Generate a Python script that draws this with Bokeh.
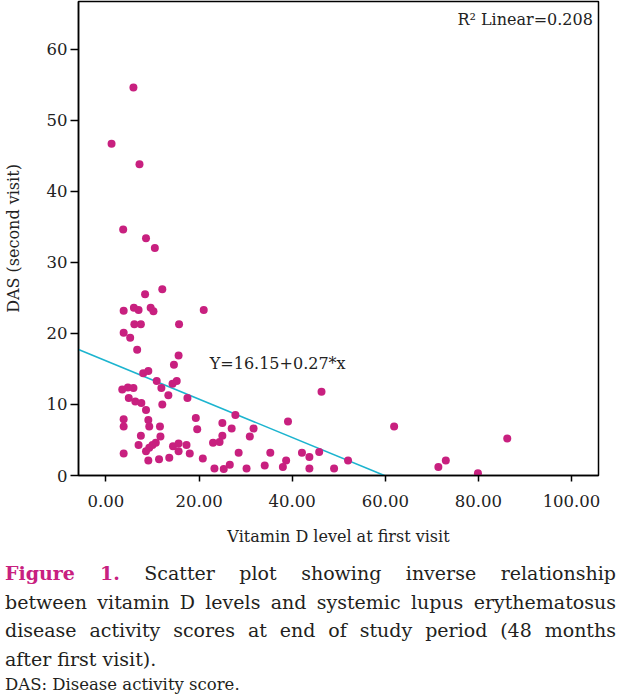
from bokeh.plotting import figure
from bokeh.models import Label, FixedTicker, PrintfTickFormatter, Range1d, Div, ColumnDataSource
from bokeh.layouts import column
from bokeh.embed import file_html
from bokeh.resources import INLINE

# ---- data ----
vitamin_d = [5.9, 1.2, 7.2, 3.7, 8.6, 10.5, 12.1, 8.4, 3.8, 6.0,
             7.0, 9.6, 10.2, 21.0, 6.1, 7.5, 15.7, 3.8, 5.2, 6.7,
             15.6, 14.6, 8.0, 9.1, 10.9, 14.3, 15.2, 11.9, 3.5, 4.7,
             5.9, 13.4, 4.9, 6.3, 7.6, 17.5, 12.1, 8.6, 3.8, 3.8,
             9.1, 9.3, 11.6, 19.3, 19.6, 7.5, 11.7, 10.7, 10.0, 9.3,
             8.6, 7.0, 14.4, 15.6, 17.3, 15.6, 18.0, 3.8, 9.1, 11.4,
             13.6, 20.8, 23.0, 23.3, 24.4, 25.0, 25.0, 27.8, 27.0, 31.7,
             30.9, 39.1, 46.3, 28.5, 35.3, 42.1, 43.7, 45.8, 25.3, 26.6,
             30.2, 34.1, 38.0, 38.7, 43.7, 49.0, 52.0, 61.9, 86.2, 71.4,
             73.0, 79.9]
das_second = [54.6, 46.7, 43.8, 34.6, 33.4, 32.0, 26.2, 25.5, 23.2, 23.6,
              23.3, 23.6, 23.1, 23.3, 21.3, 21.3, 21.3, 20.1, 19.4, 17.7,
              16.9, 15.6, 14.4, 14.7, 13.3, 12.9, 13.3, 12.3, 12.1, 12.4,
              12.3, 11.3, 10.9, 10.4, 10.2, 10.9, 10.0, 9.2, 7.9, 6.9,
              7.8, 6.9, 6.9, 8.1, 6.5, 5.6, 5.5, 4.6, 4.3, 3.9,
              3.4, 4.3, 4.1, 4.5, 4.3, 3.4, 3.1, 3.1, 2.1, 2.3,
              2.5, 2.4, 4.6, 1.0, 4.7, 5.6, 7.4, 8.5, 6.6, 6.6,
              5.5, 7.6, 11.8, 3.2, 3.2, 3.2, 2.6, 3.3, 0.9, 1.5,
              1.0, 1.4, 1.2, 2.1, 1.0, 1.0, 2.1, 6.9, 5.2, 1.2,
              2.1, 0.3]

fit_intercept = [16.15]
fit_slope = [-0.27]
x_ticks = [0, 20, 40, 60, 80, 100]
y_ticks = [0, 10, 20, 30, 40, 50, 60]
r2_text = "R\u00b2 Linear=0.208"
eq_text = "Y=16.15+0.27*x"
x_label = "Vitamin D level at first visit"
y_label = "DAS (second visit)"

X_START, X_END = -5.9, 105.8
Y_START, Y_END = 0, 66.7

FONT = "DejaVu Serif"
DOT = "#C8207F"
LINE = "#1CB4CF"

p = figure(width=613, height=554, output_backend="svg", toolbar_location=None,
           x_range=Range1d(X_START, X_END), y_range=Range1d(Y_START, Y_END),
           min_border_left=75, min_border_right=15, min_border_top=1,
           min_border_bottom=79)

p.grid.visible = False
p.outline_line_color = "black"
p.outline_line_width = 1.5
p.background_fill_color = "white"
p.border_fill_color = "white"

for ax in (p.xaxis[0], p.yaxis[0]):
    ax.axis_line_width = 1.5
    ax.axis_line_color = "black"
    ax.major_tick_line_width = 1.5
    ax.major_tick_in = 0
    ax.minor_tick_line_color = None
    ax.major_label_text_font = FONT
    ax.major_label_text_font_size = "16.5px"
    ax.major_label_text_color = "#222222"
    ax.axis_label_text_font = FONT
    ax.axis_label_text_font_size = "16px"
    ax.axis_label_text_font_style = "normal"
    ax.axis_label_text_color = "#222222"

p.xaxis.ticker = FixedTicker(ticks=x_ticks)
p.xaxis.formatter = PrintfTickFormatter(format="%.2f")
p.xaxis.major_tick_out = 6
p.xaxis.major_label_standoff = 13
p.xaxis.axis_label = x_label
p.xaxis.axis_label_standoff = 17

p.yaxis.ticker = FixedTicker(ticks=y_ticks)
p.yaxis.major_tick_out = 8
p.yaxis.major_label_standoff = 3
p.yaxis.axis_label = y_label
p.yaxis.axis_label_standoff = 21

# regression line y = a + b x, from left edge to where it meets y = 0
a, b = fit_intercept[0], fit_slope[0]
line_x = [X_START, -a / b]
line_y = [a + b * xv for xv in line_x]
p.line(line_x, line_y, line_color=LINE, line_width=1.6)

src = ColumnDataSource(dict(x=vitamin_d, y=das_second))
p.scatter("x", "y", source=src, size=8, fill_color=DOT, line_color=None)

p.add_layout(Label(x=22.3, y=15.75, text=eq_text, text_font=FONT,
                   text_font_size="16px", text_baseline="middle",
                   text_color="#222222"))
p.add_layout(Label(x=104.6, y=64.1, text=r2_text, text_font=FONT,
                   text_font_size="16px", text_baseline="middle",
                   text_align="right", text_color="#222222"))

line_style = ("font-family:'DejaVu Serif';font-size:19px;line-height:28.5px;"
              "color:#231f20;margin:0;padding:0;")
just = "text-align:justify;text-align-last:justify;"
caption = (
    f"<div style=\"width:611px;margin:0;padding:0\">"
    f"<div style=\"{line_style}{just}\"><b style=\"color:{DOT}\">Figure 1.</b> "
    f"Scatter plot showing inverse relationship</div>"
    f"<div style=\"{line_style}{just}\">between vitamin D levels and systemic lupus erythematosus</div>"
    f"<div style=\"{line_style}{just}\">disease activity scores at end of study period (48 months</div>"
    f"<div style=\"{line_style}\">after first visit).</div>"
    f"<div style=\"font-family:'DejaVu Serif';font-size:16.5px;line-height:24px;color:#231f20\">"
    f"DAS: Disease activity score.</div>"
    f"</div>"
)
div = Div(text=caption, width=613, height=138)

layout = column(p, div)
open("out.html", "w").write(file_html(layout, INLINE))
